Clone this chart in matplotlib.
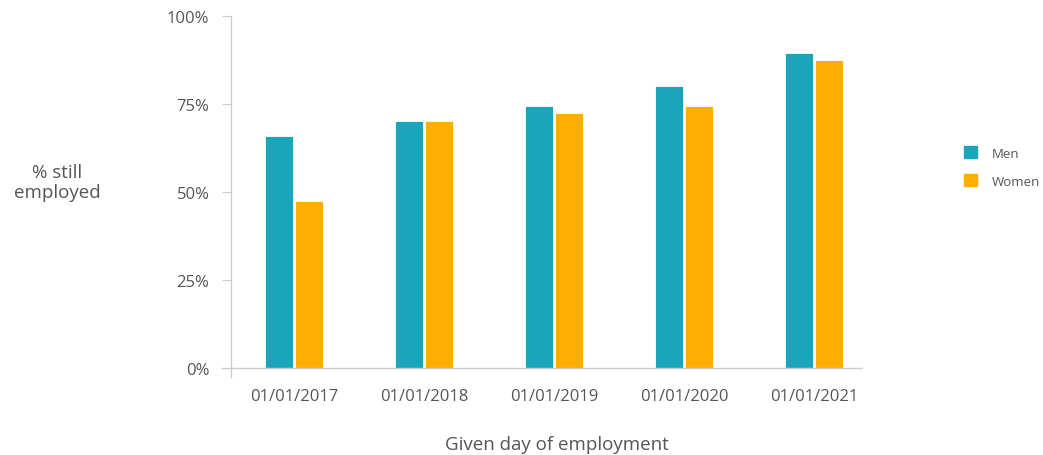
import numpy as np
import matplotlib
matplotlib.use("Agg")
import matplotlib.pyplot as plt
from matplotlib.patches import Patch

# datos
fechas = ["01/01/2017", "01/01/2018", "01/01/2019", "01/01/2020", "01/01/2021"]
hombres = [0.66, 0.70, 0.745, 0.80, 0.895]
mujeres = [0.475, 0.70, 0.725, 0.745, 0.875]
series = ["Men", "Women"]
yticks = [0, 0.25, 0.5, 0.75, 1.0]
ytick_labels = ["0%", "25%", "50%", "75%", "100%"]

plt.rcParams['font.family'] = ['Open Sans', 'DejaVu Sans']
gris = "#555555"
c_men = "#1ba5bb"
c_women = "#ffad00"

fig = plt.figure(figsize=(10.43, 4.56), dpi=100)
ax = fig.add_axes([231/1043, 1 - 378/456, (862 - 231)/1043, (378 - 17)/456])

x = np.arange(len(fechas))
w = 0.215
ax.bar(x - w/2 - 0.006, hombres, w, color=c_men, edgecolor="white", linewidth=0.6)
ax.bar(x + w/2 + 0.006, mujeres, w, color=c_women, edgecolor="white", linewidth=0.6)

ax.set_xlim(-0.485, 4.37)
ax.set_ylim(-0.027, 1.0)

for s in ["top", "right", "bottom"]:
    ax.spines[s].set_visible(False)
ax.spines["left"].set_color("#cccccc")
ax.spines["left"].set_linewidth(1)
ax.axhline(0, xmin=-0.015, xmax=1, color="#cccccc", lw=1, clip_on=False)

ax.set_yticks(yticks)
ax.set_yticklabels(ytick_labels, fontsize=12, color=gris)
ax.tick_params(axis="y", length=6.5, color="#cccccc", pad=9)
ax.set_xticks(x)
ax.set_xticklabels(fechas, fontsize=12, color=gris)
ax.tick_params(axis="x", length=0, pad=8)

fig.text(57/1043, 1 - 183/456, "% still\nemployed", ha="center", va="center",
         fontsize=13.5, color=gris, linespacing=1.2)
fig.text(557/1043, 1 - 445/456, "Given day of employment", ha="center", va="center",
         fontsize=13.5, color=gris)

handles = [Patch(color=c_men), Patch(color=c_women)]
fig.legend(handles, series, loc="center left", bbox_to_anchor=(952/1043, 1 - 168/456),
           frameon=False, fontsize=9.5, handlelength=1.0, handleheight=1.0,
           handletextpad=1.1, labelspacing=1.1, labelcolor=gris)

fig.savefig("out.png", dpi=100)
